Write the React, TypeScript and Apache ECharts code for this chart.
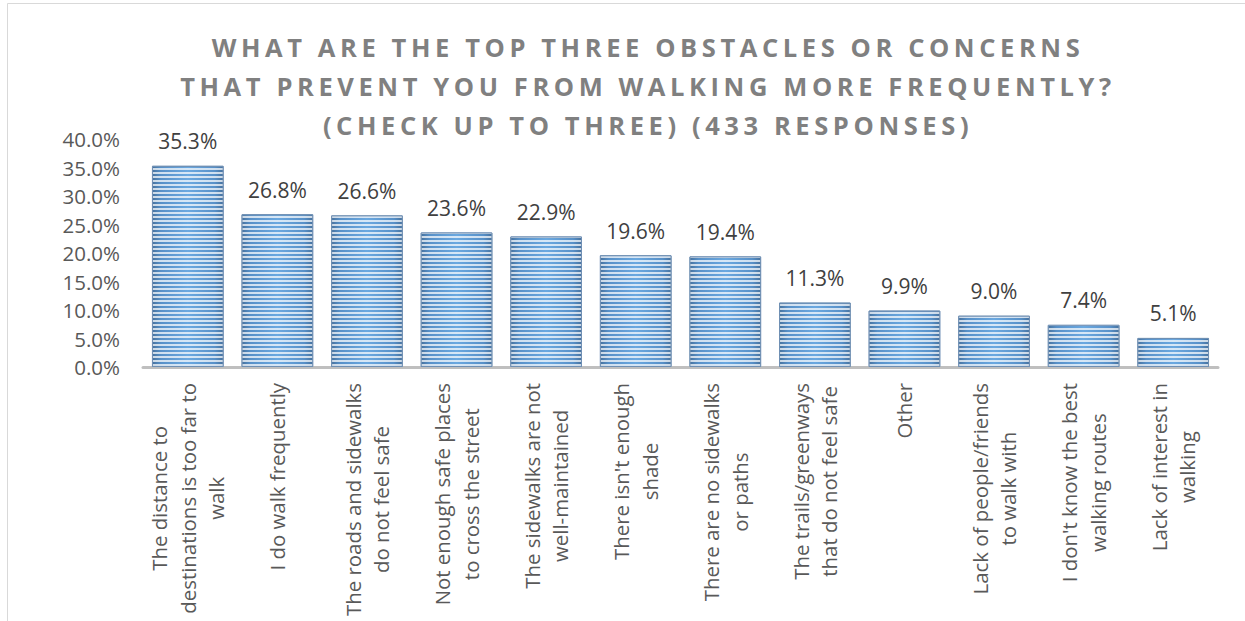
import React, { useEffect, useRef } from "react";
import * as echarts from "echarts";

const titleLines = [
  "WHAT ARE THE TOP THREE OBSTACLES OR CONCERNS",
  "THAT PREVENT YOU FROM WALKING MORE FREQUENTLY?",
  "(CHECK UP TO THREE) (433 RESPONSES)",
];

const categories = [
  "The distance to\ndestinations is too far to\nwalk",
  "I do walk frequently",
  "The roads and sidewalks\ndo not feel safe",
  "Not enough safe places\nto cross the street",
  "The sidewalks are not\nwell-maintained",
  "There isn't enough\nshade",
  "There are no sidewalks\nor paths",
  "The trails/greenways\nthat do not feel safe",
  "Other",
  "Lack of people/friends\nto walk with",
  "I don't know the best\nwalking routes",
  "Lack of interest in\nwalking",
];

const values = [35.3, 26.8, 26.6, 23.6, 22.9, 19.6, 19.4, 11.3, 9.9, 9.0, 7.4, 5.1];

const FONT = "'Open Sans', sans-serif";

export default function App() {
  const ref = useRef<HTMLDivElement>(null);

  useEffect(() => {
    if (!ref.current) return;
    const chart = echarts.init(ref.current, undefined, { renderer: "svg" });

    const barColor = new echarts.graphic.LinearGradient(0, 0, 1, 0, [
      { offset: 0, color: "#46729f" },
      { offset: 0.12, color: "#5790c8" },
      { offset: 0.5, color: "#6aa8e0" },
      { offset: 0.88, color: "#5790c8" },
      { offset: 1, color: "#46729f" },
    ]);

    chart.setOption({
      animation: false,
      backgroundColor: "#ffffff",
      grid: {
        left: 143,
        right: 27,
        top: 139,
        bottom: 254,
        containLabel: false,
        outerBoundsMode: "none",
      },
      graphic: [
        {
          type: "rect",
          silent: true,
          shape: { x: 7.5, y: 3.5, width: 1400, height: 800 },
          style: { fill: "none", stroke: "#d9d9d9", lineWidth: 1 },
          z: -10,
        },
        {
          type: "text",
          silent: true,
          x: 648,
          y: 86,
          style: {
            text: titleLines.join("\n"),
            align: "center",
            verticalAlign: "middle",
            fontFamily: FONT,
            fontWeight: "bold",
            fontSize: 25.5,
            lineHeight: 39,
            fill: "#808080",
          },
        },
      ],
      xAxis: {
        type: "category",
        data: categories,
        axisLine: { show: true, lineStyle: { color: "#bfbfbf", width: 3 } },
        axisTick: { show: false },
        splitLine: { show: false },
        axisLabel: {
          interval: 0,
          rotate: 90,
          margin: 16,
          formatter: (v: string) =>
            v
              .split("\n")
              .map((l) => `{c|${l}}`)
              .join("\n"),
          rich: {
            c: {
              align: "center",
              fontFamily: FONT,
              fontSize: 20.4,
              lineHeight: 28.5,
              color: "#595959",
            },
          },
        },
      },
      yAxis: {
        type: "value",
        min: 0,
        max: 40,
        interval: 5,
        axisLine: { show: false },
        axisTick: { show: false },
        splitLine: { show: false },
        axisLabel: {
          margin: 23,
          fontFamily: FONT,
          fontSize: 20.5,
          color: "#595959",
          formatter: (v: number) => v.toFixed(1) + "%",
        },
      },
      series: [
        {
          type: "bar",
          data: values,
          barCategoryGap: "20%",
          itemStyle: {
            color: barColor,
            borderColor: "#6f8fb3",
            borderWidth: 1,
            decal: {
              symbol: "rect",
              symbolSize: 1,
              color: "rgba(255,255,255,0.72)",
              dashArrayX: [10, 0],
              dashArrayY: [1.5, 1.5],
              rotation: 0,
            },
          },
          label: {
            show: true,
            position: "top",
            distance: 14,
            fontFamily: FONT,
            fontSize: 21,
            color: "#404040",
            formatter: (p: any) => Number(p.value).toFixed(1) + "%",
          },
        },
      ],
    });

    return () => chart.dispose();
  }, []);

  return (
    <>
      <style>{`#root text[style*="25.5px"] { letter-spacing: 4.6px; }`}</style>
      <div
        ref={ref}
        style={{ position: "absolute", left: 0, top: 0, width: 1245, height: 621 }}
      />
    </>
  );
}
